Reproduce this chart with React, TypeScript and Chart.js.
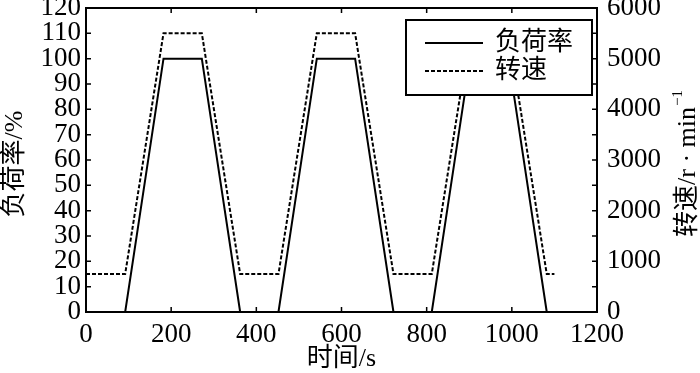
import React, { useEffect, useRef } from "react";
import { Chart, registerables } from "chart.js";

Chart.register(...registerables);

const timeS = [0, 92, 182, 272, 362, 452, 542, 632, 722, 812, 902, 992, 1082, 1100];
const loadPct = [0, 0, 100, 100, 0, 0, 100, 100, 0, 0, 100, 100, 0, 0];
const speedRpm = [750, 750, 5500, 5500, 750, 750, 5500, 5500, 750, 750, 5500, 5500, 750, 750];

const seriesNames = ["负荷率", "转速"];
const xTitle = "时间/s";
const yLeftTitle = "负荷率/%";
const yRightTitle = "转速/r · min";
const yRightSup = "−1";

const FONT = "'Liberation Serif', 'Noto Sans CJK SC', serif";

const decorPlugin = {
  id: "decor",
  afterDraw(chart: any) {
    const { ctx, chartArea, scales } = chart;
    const { left, right, top, bottom } = chartArea;
    ctx.save();
    ctx.strokeStyle = "#000";
    ctx.lineWidth = 1.5;
    const tl = 5;
    ctx.beginPath();
    for (let v = 0; v <= 120; v += 10) {
      const y = scales.y.getPixelForValue(v);
      ctx.moveTo(left, y);
      ctx.lineTo(left + tl, y);
    }
    for (let v = 0; v <= 6000; v += 500) {
      const y = scales.y1.getPixelForValue(v);
      ctx.moveTo(right, y);
      ctx.lineTo(right - tl, y);
    }
    for (let v = 0; v <= 1200; v += 200) {
      const x = scales.x.getPixelForValue(v);
      ctx.moveTo(x, bottom);
      ctx.lineTo(x, bottom - tl);
      ctx.moveTo(x, top);
      ctx.lineTo(x, top + tl);
    }
    ctx.stroke();
    ctx.lineWidth = 2;
    ctx.strokeRect(left, top, right - left, bottom - top);

    // legend
    const lx = 406, ly = 20, lw = 186, lh = 75;
    ctx.fillStyle = "#fff";
    ctx.fillRect(lx, ly, lw, lh);
    ctx.lineWidth = 2;
    ctx.strokeRect(lx, ly, lw, lh);
    ctx.setLineDash([]);
    ctx.beginPath();
    ctx.moveTo(425, 43);
    ctx.lineTo(483, 43);
    ctx.stroke();
    ctx.setLineDash([4, 2]);
    ctx.beginPath();
    ctx.moveTo(425, 71);
    ctx.lineTo(483, 71);
    ctx.stroke();
    ctx.setLineDash([]);
    ctx.fillStyle = "#000";
    ctx.font = `26px ${FONT}`;
    ctx.textAlign = "left";
    ctx.textBaseline = "middle";
    ctx.fillText(seriesNames[0], 495, 43);
    ctx.fillText(seriesNames[1], 495, 71);

    // x title
    ctx.textAlign = "center";
    ctx.fillText(xTitle, (left + right) / 2, 359);

    // left title
    ctx.save();
    ctx.translate(15, 164);
    ctx.rotate(-Math.PI / 2);
    ctx.textAlign = "center";
    ctx.fillText(yLeftTitle, 0, 0);
    ctx.restore();

    // right title
    ctx.save();
    ctx.translate(688, 164);
    ctx.rotate(-Math.PI / 2);
    ctx.font = `26px ${FONT}`;
    const w1 = ctx.measureText(yRightTitle).width;
    ctx.font = `15px ${FONT}`;
    const w2 = ctx.measureText(yRightSup).width;
    const sx = -(w1 + w2) / 2;
    ctx.textAlign = "left";
    ctx.font = `26px ${FONT}`;
    ctx.fillText(yRightTitle, sx, 0);
    ctx.font = `15px ${FONT}`;
    ctx.fillText(yRightSup, sx + w1 + 1, -10);
    ctx.restore();

    ctx.restore();
  },
};

export default function App() {
  const ref = useRef<HTMLCanvasElement>(null);
  useEffect(() => {
    if (!ref.current) return;
    const tickFont = { family: FONT, size: 27 };
    const chart = new Chart(ref.current, {
      type: "line",
      data: {
        datasets: [
          {
            label: seriesNames[0],
            data: timeS.map((t, i) => ({ x: t, y: loadPct[i] })),
            borderColor: "#000",
            borderWidth: 2,
            pointRadius: 0,
            yAxisID: "y",
          },
          {
            label: seriesNames[1],
            data: timeS.map((t, i) => ({ x: t, y: speedRpm[i] })),
            borderColor: "#000",
            borderWidth: 2,
            borderDash: [4, 2],
            pointRadius: 0,
            yAxisID: "y1",
          },
        ],
      },
      options: {
        animation: false,
        responsive: false,
        layout: { padding: { top: 8, left: 0, right: 0, bottom: 0 } },
        plugins: { legend: { display: false }, tooltip: { enabled: false } },
        scales: {
          x: {
            type: "linear",
            min: 0,
            max: 1200,
            ticks: { stepSize: 200, font: tickFont, color: "#000", padding: 7, maxRotation: 0, autoSkip: false, callback: (v: any) => String(v) },
            grid: { display: false, drawTicks: false },
            border: { display: false },
            afterFit: (s: any) => { s.height = 61; s.paddingLeft = 0; s.paddingRight = 0; },
          },
          y: {
            position: "left",
            min: 0,
            max: 120,
            ticks: { stepSize: 10, font: tickFont, color: "#000", padding: 5, autoSkip: false, callback: (v: any) => String(v) },
            grid: { display: false, drawTicks: false },
            border: { display: false },
            afterFit: (s: any) => { s.width = 86; s.paddingTop = 0; s.paddingBottom = 0; },
          },
          y1: {
            position: "right",
            min: 0,
            max: 6000,
            ticks: { stepSize: 1000, font: tickFont, color: "#000", padding: 10, autoSkip: false, callback: (v: any) => String(v) },
            grid: { display: false, drawTicks: false },
            border: { display: false },
            afterFit: (s: any) => { s.width = 103; s.paddingTop = 0; s.paddingBottom = 0; },
          },
        },
      },
      plugins: [decorPlugin],
    } as any);
    return () => chart.destroy();
  }, []);
  return (
    <div style={{ position: "fixed", left: 0, top: 0, width: 700, height: 373, background: "#fff" }}>
      <canvas ref={ref} width={700} height={373} style={{ display: "block" }} />
    </div>
  );
}
